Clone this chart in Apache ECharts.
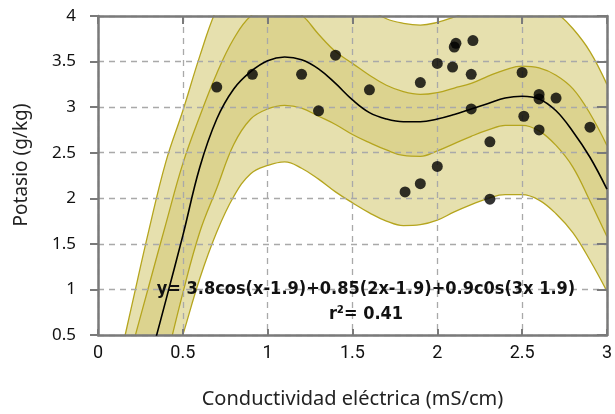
<!DOCTYPE html>
<html>
<head>
<meta charset="utf-8">
<script src="https://cdn.jsdelivr.net/npm/echarts@6/dist/echarts.min.js"></script>
<style>
  html, body { margin: 0; padding: 0; background: #fff; }
  #chart { width: 615px; height: 414px; }
</style>
</head>
<body>
<div id="chart"></div>
<script>
// Conductividad eléctrica (mS/cm) sampled along the fitted curve
const curveX = [0.1, 0.2, 0.3, 0.4, 0.5, 0.6, 0.7, 0.8, 0.9, 1.0,
                1.1, 1.2, 1.3, 1.4, 1.5, 1.6, 1.7, 1.8, 1.9, 2.0,
                2.1, 2.2, 2.3, 2.4, 2.5, 2.6, 2.7, 2.8, 2.9, 3.0];

// Fitted potassium curve
const fitY = [null, null, 0.18, 0.88, 1.59, 2.34, 2.87, 3.20, 3.39, 3.51,
              3.55, 3.52, 3.42, 3.26, 3.08, 2.94, 2.87, 2.84, 2.84, 2.87,
              2.92, 2.98, 3.04, 3.10, 3.12, 3.09, 2.96, 2.73, 2.45, 2.10];

// Confidence band (inner)
const innerUpper = [null, 0.36, 1.04, 1.72, 2.38, 2.90, 3.37, 3.75, 4.00, 4.08,
                    4.09, 4.01, 3.80, 3.61, 3.48, 3.35, 3.24, 3.17, 3.14, 3.16,
                    3.21, 3.26, 3.34, 3.41, 3.45, 3.43, 3.35, 3.20, 2.93, 2.58];
const innerLower = [null, null, null, 0.20, 0.96, 1.63, 2.11, 2.59, 2.87, 2.98,
                    3.02, 2.99, 2.90, 2.81, 2.70, 2.61, 2.53, 2.47, 2.46, 2.52,
                    2.60, 2.68, 2.75, 2.80, 2.80, 2.74, 2.58, 2.34, 1.97, 1.58];

// Prediction band (outer)
const outerUpper = [0.00, 0.83, 1.65, 2.40, 2.96, 3.56, 4.08, 4.40, 4.58, 4.68,
                    4.70, 4.66, 4.56, 4.40, 4.22, 4.08, 3.97, 3.92, 3.90, 3.93,
                    3.99, 4.06, 4.12, 4.17, 4.19, 4.15, 4.04, 3.86, 3.61, 3.25];
const outerLower = [null, null, null, -0.10, 0.50, 1.12, 1.63, 2.02, 2.27, 2.36,
                    2.40, 2.33, 2.21, 2.07, 1.95, 1.84, 1.75, 1.70, 1.71, 1.76,
                    1.85, 1.93, 2.00, 2.04, 2.04, 1.98, 1.83, 1.62, 1.32, 0.98];

// Observed samples
const obsX = [0.70, 0.91, 1.20, 1.30, 1.40, 1.60, 1.81, 1.90, 1.90, 2.00,
              2.00, 2.09, 2.10, 2.11, 2.21, 2.20, 2.20, 2.31, 2.31, 2.50,
              2.51, 2.60, 2.60, 2.60, 2.70, 2.90];
const obsY = [3.22, 3.36, 3.36, 2.96, 3.57, 3.19, 2.07, 2.16, 3.27, 3.48,
              2.35, 3.44, 3.66, 3.70, 3.73, 3.36, 2.98, 2.62, 1.99, 3.38,
              2.90, 3.14, 3.09, 2.75, 3.10, 2.78];

const xTicks = [0, 0.5, 1, 1.5, 2, 2.5, 3];
const yTicks = [0.5, 1, 1.5, 2, 2.5, 3, 3.5, 4];

const equationText = 'y= 3.8cos(x-1.9)+0.85(2x-1.9)+0.9c0s(3x 1.9)';
const r2Text = 'r\u00b2= 0.41';
const xTitle = 'Conductividad eléctrica (mS/cm)';
const yTitle = 'Potasio (g/kg)';

const pair = ys => curveX.map((x, i) => [x, ys[i]]);

const LIGHT = '#e6e0ae';
const DARK = '#dcd38f';
const EDGE = '#b5a51e';
const AXIS = '#7a7a7a';
const EQ_FONT = '"DejaVu Sans Condensed", "DejaVu Sans", sans-serif';

// Bands are layered top-down: each fills from its edge to the bottom of the plot
const bandSeries = (name, ys, fill) => ({
  name, type: 'line', data: pair(ys), smooth: 0.4, symbol: 'none',
  clip: true, z: 1,
  lineStyle: { color: EDGE, width: 1.3 },
  areaStyle: { color: fill, opacity: 1 }
});

const chart = echarts.init(document.getElementById('chart'), null, { renderer: 'canvas' });

chart.setOption({
  animation: false,
  backgroundColor: '#fff',
  grid: { left: 98, right: 7, top: 16, bottom: 72, containLabel: false },
  xAxis: [
    {
      type: 'value', min: 0, max: 3, interval: 0.5, position: 'bottom', z: 3,
      axisLine: { show: true, onZero: false, lineStyle: { color: AXIS, width: 2.5 } },
      axisTick: { show: true, inside: true, length: 6, lineStyle: { color: AXIS, width: 2 } },
      splitLine: { show: true, lineStyle: { color: '#a9a9a9', type: [6, 5], width: 1.3 } },
      axisLabel: {
        margin: 9, color: '#111', fontSize: 18, fontFamily: 'Roboto',
        formatter: v => xTicks.includes(v) ? String(v) : ''
      },
      name: xTitle, nameLocation: 'middle', nameGap: 54,
      nameTextStyle: { color: '#222', fontSize: 20, fontFamily: 'Noto Sans' }
    },
    {
      type: 'value', min: 0, max: 3, interval: 0.5, position: 'top', z: 3,
      axisLine: { show: true, onZero: false, lineStyle: { color: AXIS, width: 2.5 } },
      axisTick: { show: true, inside: true, length: 8, lineStyle: { color: AXIS, width: 2 } },
      splitLine: { show: false }, axisLabel: { show: false }
    }
  ],
  yAxis: [
    {
      type: 'value', min: 0.5, max: 4, interval: 0.5, position: 'left', z: 3,
      axisLine: { show: true, onZero: false, lineStyle: { color: AXIS, width: 2.5 } },
      axisTick: { show: true, inside: false, length: 8, lineStyle: { color: AXIS, width: 2 } },
      splitLine: { show: true, lineStyle: { color: '#a9a9a9', type: [6, 5], width: 1.3 } },
      axisLabel: {
        margin: 22, color: '#111', fontSize: 17, fontFamily: 'Noto Sans',
        formatter: v => yTicks.includes(v) ? String(v) : ''
      }
    },
    {
      type: 'value', min: 0.5, max: 4, interval: 0.5, position: 'right', z: 3,
      axisLine: { show: true, onZero: false, lineStyle: { color: AXIS, width: 2.5 } },
      axisTick: { show: true, inside: true, length: 10, lineStyle: { color: AXIS, width: 2 } },
      splitLine: { show: false }, axisLabel: { show: false }
    }
  ],
  series: [
    bandSeries('Predicción superior', outerUpper, LIGHT),
    bandSeries('Confianza superior', innerUpper, DARK),
    bandSeries('Confianza inferior', innerLower, LIGHT),
    bandSeries('Predicción inferior', outerLower, '#ffffff'),
    {
      name: 'Ajuste', type: 'line', data: pair(fitY), smooth: 0.4, symbol: 'none',
      clip: true, z: 4, lineStyle: { color: '#000', width: 1.6 }
    },
    {
      name: 'Observado', type: 'scatter', z: 5,
      data: obsX.map((x, i) => [x, obsY[i]]),
      symbol: 'circle', symbolSize: 11,
      itemStyle: { color: '#000' }
    }
  ],
  graphic: [
    {
      type: 'text', x: 366, y: 289, z: 10,
      style: {
        text: equationText, fill: '#111', align: 'center', verticalAlign: 'middle',
        fontFamily: EQ_FONT, fontWeight: 'bold', fontSize: 18
      }
    },
    {
      type: 'text', x: 366, y: 314, z: 10,
      style: {
        text: r2Text, fill: '#111', align: 'center', verticalAlign: 'middle',
        fontFamily: EQ_FONT, fontWeight: 'bold', fontSize: 18
      }
    },
    {
      type: 'text', x: 22, y: 165, rotation: Math.PI / 2, z: 10,
      style: {
        text: yTitle, fill: '#222', align: 'center', verticalAlign: 'middle',
        fontFamily: 'Noto Sans', fontSize: 19
      }
    }
  ]
});
</script>
</body>
</html>
